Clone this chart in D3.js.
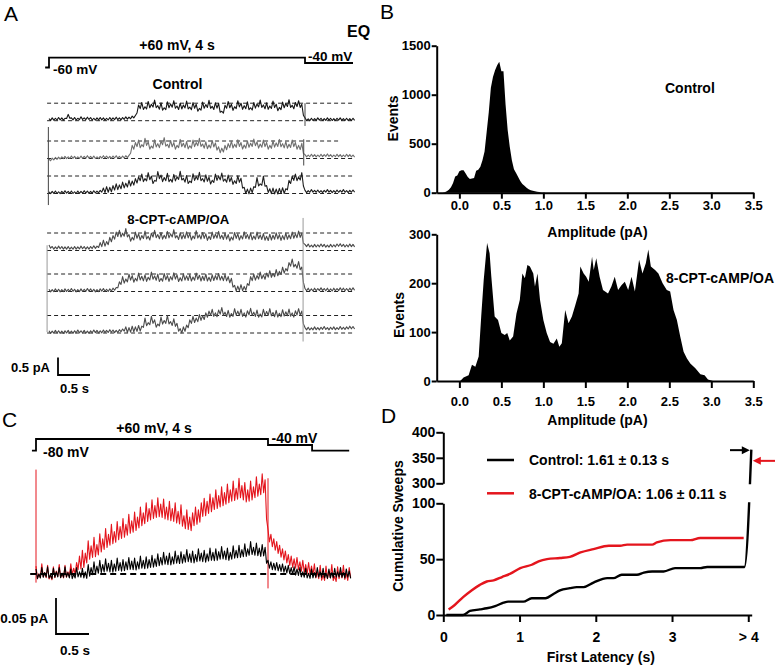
<!DOCTYPE html>
<html><head><meta charset="utf-8">
<script src="https://cdn.jsdelivr.net/npm/d3@7"></script>
<style>
body{margin:0;background:#fff;}
svg{display:block;font-family:"Liberation Sans",Arial,Helvetica,sans-serif;}
</style></head><body>
<svg id="fig" width="775" height="666"></svg>
<script>
// ---------------- DATA ----------------
// Panel A: voltage protocol (s, mV)
const protoA_time = [-0.06, 0, 0, 4, 4, 4.75];
const protoA_mV   = [-60, -60, 60, 60, -40, -40];
// Panel C: voltage protocol
const protoC_time = [-0.07, 0, 0, 4, 4, 4.76, 4.76, 5.4];
const protoC_mV   = [-80, -80, 60, 60, -40, -40, -80, -80];

// Panel A single-channel sweeps (pA), sampled every 0.05 s from 0 s
const sampleStepA = 0.05;
const ctrlSweep1 = [0.03,0.05,0.04,0.06,0.05,0.04,0.15,0.05,0.06,0.04,0.08,0.05,0.07,0.06,0.04,0.05,0.06,0.05,0.04,0.06,0.05,0.07,0.05,0.06,0.08,0.07,0.10,0.12,
 0.38,0.45,0.33,0.48,0.40,0.52,0.36,0.44,0.30,0.47,0.41,0.50,0.35,0.43,0.38,0.49,0.32,0.45,0.40,0.28,0.46,0.39,0.51,0.34,0.44,0.42,0.20,0.37,0.48,0.40,0.33,0.50,0.43,0.36,0.47,0.30,0.45,0.41,0.52,0.38,0.44,0.35,0.49,0.40,0.31,0.46,0.42,0.53,0.37,0.45,0.50,0.40,
 0.05,0.02,0.04,0.03,0.05,0.04,0.03,0.05,0.04,0.03,0.04,0.05,0.03,0.04,0.03,0.04];
const ctrlSweep2 = [-0.05,-0.02,0.00,0.01,0.02,0.03,0.02,0.04,0.03,0.02,0.04,0.03,0.05,0.03,0.04,0.02,0.03,0.05,0.04,0.03,0.04,0.05,0.03,0.04,0.05,0.06,
 0.30,0.38,0.45,0.32,0.50,0.40,0.28,0.46,0.35,0.42,0.52,0.33,0.44,0.38,0.30,0.47,0.36,0.41,0.29,0.45,0.38,0.50,0.34,0.40,0.31,0.44,0.37,0.26,0.22,0.30,0.35,0.42,0.33,0.46,0.38,0.31,0.43,0.36,0.48,0.40,0.34,0.45,0.38,0.30,0.43,0.37,0.47,0.35,0.41,0.33,0.45,0.38,0.30,0.36,
 0.08,0.07,0.09,0.08,0.07,0.09,0.08,0.10,0.08,0.07,0.09,0.08,0.07,0.09,0.08,0.07];
const ctrlSweep3 = [0.02,0.03,0.04,0.02,0.03,0.05,0.03,0.04,0.02,0.04,0.03,0.05,0.04,0.03,0.05,0.04,0.06,
 0.08,0.12,0.10,0.15,0.20,0.17,0.25,0.22,0.30,0.28,0.35,
 0.40,0.48,0.35,0.52,0.42,0.30,0.55,0.45,0.38,0.50,0.33,0.47,0.40,0.56,0.36,0.44,0.28,0.49,0.41,0.53,0.35,0.46,0.39,0.30,0.48,0.42,0.51,0.34,0.45,0.38,0.29,0.43,0.36,
 0.10,0.05,0.08,0.12, 0.38,0.20,0.42,0.15, 0.06,0.08,0.05,0.07,0.09,0.06, 0.30,0.42,0.48,0.40,0.52,
 0.06,0.05,0.08,0.06,0.07,0.05,0.06,0.08,0.06,0.05,0.07,0.06,0.08,0.05,0.06,0.07];
const cptSweep1 = [0.12,0.08,0.07,0.09,0.08,0.07,0.08,0.06,0.08,0.07,0.09,0.08,0.07,0.08,0.10,0.09,
 0.15,0.22,0.18,0.30,0.35,0.45,
 0.50,0.42,0.55,0.38,0.30,0.45,0.40,0.35,0.48,0.33,0.42,0.50,0.38,0.44,0.36,0.47,0.40,0.52,0.35,0.43,0.38,0.46,0.41,0.34,0.49,0.37,0.44,0.40,0.33,0.45,0.39,0.47,0.36,0.42,0.38,0.31,0.44,0.40,0.35,0.46,0.38,0.42,0.34,0.45,0.37,0.41,0.33,0.39,0.36,0.43,0.38,0.35,0.42,0.37,0.45,0.40,0.48,0.42,
 0.14,0.15,0.12,0.14,0.13,0.15,0.14,0.12,0.14,0.13,0.15,0.16,0.14,0.13,0.15,0.14];
const cptSweep2 = [0.03,0.02,0.04,0.03,0.02,0.04,0.03,0.05,0.03,0.02,0.04,0.03,0.05,0.04,0.03,0.02,0.04,0.05,0.03,0.04,0.06,0.08,
 0.20,0.35,0.28,0.42,0.38,0.30,0.45,0.36,0.40,0.33,0.48,0.37,0.42,0.30,0.44,0.38,0.35,0.46,0.40,0.32,0.43,0.37,0.41,0.34,0.45,0.39,0.36,0.42,0.33,0.40,0.38,0.44,0.36,0.41,0.35,0.30,
 0.10,0.08,0.12,0.07,0.15,
 0.35,0.42,0.38,0.48,0.40,0.45,0.52,0.44,0.55,0.50,0.62,0.58,0.75,0.85,0.70,0.78,0.62,
 0.05,0.06,0.04,0.06,0.05,0.07,0.05,0.06,0.04,0.06,0.05,0.07,0.06,0.05,0.06,0.07];
const cptSweep3 = [0.03,0.02,0.04,0.03,0.02,0.03,0.04,0.02,0.03,0.05,0.03,0.04,0.02,0.03,0.05,0.04,0.03,0.05,0.04,0.06,0.05,0.04,0.06,0.08,
 0.10,0.08,0.12,0.10,0.14,0.12,
 0.35,0.22,0.40,0.30,0.18,0.38,0.28,0.42,0.25,0.33,0.20,
 0.05,0.10,0.15,
 0.30,0.40,0.35,0.45,0.42,0.50,
 0.55,0.60,0.50,0.58,0.65,0.52,0.57,0.48,0.62,0.55,0.60,0.50,0.56,0.63,0.52,0.58,0.47,0.60,0.54,0.62,0.51,0.57,0.49,0.59,0.53,0.61,0.50,0.56,0.62,0.55,
 0.12,0.13,0.11,0.14,0.12,0.13,0.15,0.12,0.13,0.14,0.12,0.15,0.13,0.14,0.16,0.15];
const sweepsA = [ctrlSweep1, ctrlSweep2, ctrlSweep3, cptSweep1, cptSweep2, cptSweep3];
// noise half-width: [from s, to s, half-width pA]
const noiseA = [
  [[0,1.37,0.03],[1.37,4,0.07],[4,4.8,0.03]],
  [[0,1.27,0.03],[1.27,4,0.075],[4,4.8,0.03]],
  [[0,0.85,0.03],[0.85,4,0.075],[4,4.8,0.03]],
  [[0,0.8,0.035],[0.8,4,0.075],[4,4.8,0.035]],
  [[0,1.1,0.035],[1.1,4,0.075],[4,4.8,0.035]],
  [[0,1.2,0.035],[1.2,4,0.075],[4,4.8,0.035]]
];
const sweepColors = ["#151515", "#6e6e6e", "#1e1e1e", "#4a4a4a", "#4a4a4a", "#4a4a4a"];
const dashEndA = [4.78, 4.53, 4.78, 4.78, 4.78, 4.78];
// capacitive transients: [sweep index, time s, low pA, high pA]
const transientsA = [[1, -0.01, -1.33, 0.9], [0, 4.0, -0.15, 0.5], [1, 3.98, -0.2, 0.55],
                     [3, -0.03, -2.33, 0.15], [3, 3.97, -2.6, 0.93]];

// Panel B histograms
const ctrlAmp = [-0.2,-0.175,-0.15,-0.125,-0.1,-0.075,-0.05,-0.025,0,0.025,0.05,0.075,0.1,0.125,0.15,0.175,0.2,0.225,0.25,0.275,0.3,0.325,0.35,0.375,0.4,0.425,0.45,0.475,0.5,0.525,0.55,0.575,0.6,0.625,0.65,0.675,0.7,0.725,0.75,0.775,0.8,0.825,0.85,0.875,0.9,0.925,0.95,0.975,1.0];
const ctrlEvents = [0,5,15,30,55,100,165,175,220,230,230,195,160,140,145,150,225,235,265,330,420,620,820,1070,1180,1250,1300,1335,1240,1240,900,640,470,330,240,200,160,120,90,70,50,35,25,20,14,10,6,3,0];
const cptAmp = [0.01,0.05,0.11,0.15,0.19,0.23,0.26,0.29,0.33,0.36,0.38,0.42,0.46,0.5,0.54,0.57,0.6,0.64,0.68,0.72,0.75,0.78,0.81,0.84,0.88,0.9,0.93,0.96,1.0,1.04,1.08,1.12,1.16,1.19,1.22,1.26,1.3,1.34,1.38,1.42,1.44,1.48,1.51,1.54,1.58,1.6,1.63,1.67,1.71,1.77,1.81,1.85,1.89,1.93,1.97,2.01,2.05,2.09,2.14,2.18,2.22,2.25,2.28,2.33,2.37,2.42,2.47,2.51,2.55,2.59,2.63,2.67,2.71,2.75,2.81,2.87,2.92,2.96,3.02];
const cptEvents = [0,7,12,33,29,50,132,207,282,261,214,132,125,98,94,98,83,91,138,166,220,210,237,234,220,193,220,166,125,98,80,76,87,70,77,145,118,132,155,179,234,220,213,203,254,227,251,213,186,179,193,213,186,196,203,186,213,183,248,220,241,269,234,227,220,200,186,183,145,125,91,60,46,36,26,14,12,3,0];
const ampTicks = [0,0.5,1,1.5,2,2.5,3,3.5];

// Panel C ensemble averages (pA), sampled every 0.05 s from 0 s
const sampleStepC = 0.05;
const cptMean = [0.005,-0.006,0.008,-0.004,0.006,-0.008,0.004,-0.002,0.007,-0.005,0.006,-0.003,0.008,0.002,0.010,
 0.014,0.022,0.018,0.035,0.028,
 0.040,0.030,0.045,0.038,0.052,0.044,0.058,0.048,0.062,0.055,0.066,0.058,0.072,0.063,0.075,0.068,0.082,0.074,0.088,0.080,
 0.092,0.084,0.095,0.086,0.093,0.082,0.090,0.080,0.088,0.076,0.085,0.070,0.078,0.068,0.074,0.082,0.078,0.088,0.094,0.090,
 0.100,0.095,0.106,0.098,0.110,0.102,0.114,0.106,0.118,0.108,0.122,0.112,0.116,0.106,0.118,0.110,0.124,0.114,0.128,0.120,
 0.055,0.048,0.042,0.038,0.033,0.028,0.025,0.020,0.018,0.014,0.016,0.010,0.012,0.006,0.009,0.004,0.007,-0.004,0.005,-0.008,0.004,-0.003,0.006,-0.010,0.003,-0.002,0.005,-0.006,0.002];
const ctrlMean = [0.002,-0.005,0.004,-0.003,0.005,-0.006,0.003,-0.002,0.004,-0.004,0.005,-0.003,0.002,-0.005,0.004,-0.002,0.003,-0.004,
 0.006,0.002,0.010,0.004,0.012,0.006,0.014,0.008,0.012,0.007,0.015,0.009,0.013,0.010,0.016,0.011,0.015,0.010,0.018,0.012,0.017,0.013,
 0.019,0.014,0.021,0.016,0.023,0.018,0.022,0.017,0.025,0.019,0.024,0.020,0.027,0.021,0.025,0.020,0.028,0.022,0.026,0.021,
 0.029,0.023,0.028,0.024,0.031,0.025,0.029,0.023,0.032,0.026,0.033,0.027,0.035,0.028,0.038,0.030,0.036,0.029,0.034,0.030,
 0.014,0.012,0.010,0.011,0.008,0.009,0.006,0.007,0.004,0.005,0.002,0.004,-0.002,0.003,-0.004,0.002,-0.003,0.004,-0.002,0.003,-0.004,0.002,-0.003,0.003,-0.002,0.004,-0.003,0.002,-0.001];
const noiseC_cpt  = [[0,0.75,0.006],[0.75,4,0.011],[4,5.45,0.007]];
const noiseC_ctrl = [[0,0.85,0.005],[0.85,4,0.007],[4,5.45,0.005]];
const transientsC = [[0, -0.012, 0.145], [4.0, -0.02, 0.133]];

// Panel D cumulative first latency
const ctrlLatency = [0.04,0.26,0.35,0.48,0.57,0.68,0.79,0.85,1.05,1.16,1.34,1.45,1.53,1.66,1.75,1.84,1.97,2.15,2.23,2.34,2.54,2.63,2.74,2.89,3.04,3.37,3.46,3.95,4.04];
const ctrlCumSweeps = [0,0,3.6,5,6,8,11,12,12,15,15,19,22,24,25,25,29,33,33,36,36,38,39,39,42,42,43,43,366];
const cptLatency = [0.07,0.15,0.26,0.37,0.48,0.57,0.66,0.77,0.88,1.01,1.16,1.25,1.36,1.53,1.66,1.8,1.97,2.17,2.32,2.41,2.74,2.8,2.98,3.24,3.37,3.94];
const cptCumSweeps = [5,9,16,22,27,30,31,34,37,42,45,48,50,51,52,56,59,62,62,63,63,65,67,67,69,69];
const latencyTicks = [0,1,2,3,4];
const sweepTicksLow = [0,50,100];
const sweepTicksHigh = [300,350,400];
const legendD = ["Control: 1.61 \u00B1 0.13 s", "8-CPT-cAMP/OA: 1.06 \u00B1 0.11 s"];
// arrows marking totals: [from latency, to latency, sweeps]
const arrowsD = [[3.76, 4.02, 365], [4.36, 4.06, 344]];

// ---------------- DRAWING ----------------
const RED = "#e4151d";
const svg = d3.select("#fig");
svg.append("rect").attr("width",775).attr("height",666).attr("fill","#fff");
const FONT = '"Liberation Sans", Arial, Helvetica, sans-serif';
function txt(x, y, s, size, opts={}) {
  return svg.append("text").attr("x",x).attr("y",y).text(s)
    .attr("font-size",size).attr("font-weight",opts.weight||"bold")
    .attr("text-anchor",opts.anchor||"start").attr("fill",opts.fill||"#000")
    .attr("font-family",FONT);
}
function styleAxis(g, size) {
  g.selectAll("path.domain").attr("stroke","#000").attr("stroke-width",2);
  g.selectAll(".tick line").attr("stroke","#000").attr("stroke-width",2);
  g.selectAll(".tick text").attr("font-size",size).attr("font-weight","bold").attr("font-family",FONT).attr("fill","#000");
}
function halfWidth(segs, t) {
  const s = segs.find(s => t >= s[0] && t < s[1]) || segs[segs.length-1];
  return s[2];
}
// a recorded trace drawn as a dense noisy line: each sample swings by its noise half-width
function noisyPoints(arr, step, segs) {
  const pts = [];
  arr.forEach((v,k) => {
    const t = k*step, h = halfWidth(segs, t);
    pts.push([t, v + h]);
    pts.push([t + step/2, (arr[k+1] !== undefined ? (v + arr[k+1])/2 : v) - h]);
  });
  return pts;
}

// panel letters
txt(4,21,"A",21,{weight:"normal"});
txt(380,19,"B",21,{weight:"normal"});
txt(2,427,"C",21,{weight:"normal"});
txt(381,423,"D",21,{weight:"normal"});

// ===== Panel A =====
const xA = d3.scaleLinear().domain([0,4]).range([49,305]);
const vA = d3.scaleLinear().domain([-60,-40,60]).range([67.5,63,57.7]);
svg.append("path").datum(d3.zip(protoA_time, protoA_mV))
  .attr("d", d3.line().x(d=>xA(d[0])).y(d=>vA(d[1])))
  .attr("fill","none").attr("stroke","#000").attr("stroke-width",1.8);
txt(xA(2.0),50,"+60 mV, 4 s",14,{anchor:"middle"});
txt(53,74,"-60 mV",13.5);
txt(308,60.5,"-40 mV",13.5);
txt(347,36.7,"EQ",16);
txt(177.5,89,"Control",14,{anchor:"middle"});
txt(178.3,224,"8-CPT-cAMP/OA",13.2,{anchor:"middle"});

const baseA = [120.7, 158.5, 193.5, 250.5, 291.5, 333];
const yA = d3.scaleLinear().domain([0,0.5]).range([0,-17.5]);
sweepsA.forEach((sw, i) => {
  const g = svg.append("g").attr("transform",`translate(0,${baseA[i]})`);
  [0, 0.5].forEach(level => {
    g.append("line").attr("x1",xA(-0.03)).attr("x2",xA(level===0.5?dashEndA[i]:4.78))
      .attr("y1",yA(level)).attr("y2",yA(level))
      .attr("stroke","#222").attr("stroke-width",1).attr("stroke-dasharray","4,3");
  });
  g.append("path").datum(noisyPoints(sw, sampleStepA, noiseA[i]))
    .attr("d", d3.line().x(d=>xA(d[0])).y(d=>yA(d[1])))
    .attr("fill","none").attr("stroke",sweepColors[i]).attr("stroke-width",1.1).attr("stroke-linejoin","round");
});
transientsA.forEach(([i,t,lo,hi]) => {
  svg.append("line").attr("x1",xA(t)).attr("x2",xA(t))
    .attr("y1",baseA[i]+yA(lo)).attr("y2",baseA[i]+yA(hi))
    .attr("stroke", i<3 ? "#444" : "#999").attr("stroke-width",1);
});
// scale bar A
{
  const x0 = 58, y0 = 375;
  svg.append("path").attr("d",`M${x0},${y0+yA(0.5)}V${y0}H${x0 + xA(0.5)-xA(0)}`)
    .attr("fill","none").attr("stroke","#000").attr("stroke-width",1.8);
  txt(50,371.5,"0.5 pA",13,{anchor:"end"});
  txt(60,393,"0.5 s",13);
}

// ===== Panel B =====
const xB = d3.scaleLinear().domain([-0.27,3.5]).range([436.7,753.3]);
function histPanel(amp, ev, yDomain, yRange, yTicks, opts) {
  const y = d3.scaleLinear().domain(yDomain).range(yRange);
  svg.append("path").datum(d3.zip(amp, ev))
    .attr("d", d3.area().x(d=>xB(d[0])).y0(y(0)).y1(d=>y(d[1])))
    .attr("fill","#000");
  const gy = svg.append("g").attr("transform",`translate(${xB.range()[0]},0)`)
    .call(d3.axisLeft(y).tickValues(yTicks).tickFormat(d3.format("d")).tickSize(5).tickPadding(1).tickSizeOuter(0));
  styleAxis(gy, 13);
  const gx = svg.append("g").attr("transform",`translate(0,${yRange[0]})`)
    .call(d3.axisBottom(xB).tickValues(ampTicks).tickFormat(d3.format(".1f"))
      .tickSize(opts.tick).tickPadding(opts.pad).tickSizeOuter(0));
  styleAxis(gx, 13);
}
histPanel(ctrlAmp, ctrlEvents, [0,1500], [192.7,45.7], [0,500,1000,1500], {tick:6, pad:2});
histPanel(cptAmp, cptEvents, [0,300], [381,234.3], [0,100,200,300], {tick:7, pad:9});
function vtext(x, y, s, size) {
  svg.append("text").attr("transform",`translate(${x},${y}) rotate(-90)`)
    .attr("text-anchor","middle").attr("dominant-baseline","central")
    .attr("font-size",size).attr("font-weight","bold").attr("font-family",FONT).text(s);
}
vtext(393,118.5,"Events",14);
vtext(398.5,315,"Events",14);
txt(597.5,237,"Amplitude (pA)",14,{anchor:"middle"});
txt(597.5,424.5,"Amplitude (pA)",14,{anchor:"middle"});
txt(665,93,"Control",14);
txt(666,283,"8-CPT-cAMP/OA",14);

// ===== Panel C =====
const xC = d3.scaleLinear().domain([0,4]).range([36,268]);
const vC = d3.scaleLinear().domain([-80,-40,60]).range([450.7,445,439]);
const yC = d3.scaleLinear().domain([0,0.05]).range([574,538]);
svg.append("path").datum(d3.zip(protoC_time, protoC_mV))
  .attr("d", d3.line().x(d=>xC(d[0])).y(d=>vC(d[1])))
  .attr("fill","none").attr("stroke","#000").attr("stroke-width",1.8);
txt(154,433,"+60 mV, 4 s",14,{anchor:"middle"});
txt(43,456.5,"-80 mV",14);
txt(271.5,443,"-40 mV",14);
transientsC.forEach(([t,lo,hi]) => {
  svg.append("line").attr("x1",xC(t)).attr("x2",xC(t)).attr("y1",yC(lo)).attr("y2",yC(hi))
    .attr("stroke",RED).attr("stroke-width",1);
});
[[cptMean, RED, noiseC_cpt],[ctrlMean, "#000", noiseC_ctrl]].forEach(([arr,col,nz]) => {
  svg.append("path").datum(noisyPoints(arr, sampleStepC, nz))
    .attr("d", d3.line().x(d=>xC(d[0])).y(d=>yC(d[1])))
    .attr("fill","none").attr("stroke",col).attr("stroke-width",1.1).attr("stroke-linejoin","round");
});
svg.append("line").attr("x1",xC(-0.1)).attr("x2",xC(5.4)).attr("y1",yC(0)).attr("y2",yC(0))
  .attr("stroke","#000").attr("stroke-width",2).attr("stroke-dasharray","6,4");
{
  const x0 = 56, y0 = 634;
  svg.append("path").attr("d",`M${x0},${y0-(yC(0)-yC(0.05))}V${y0}H${x0 + xC(0.5)-xC(0) + 4}`)
    .attr("fill","none").attr("stroke","#000").attr("stroke-width",1.8);
  txt(48.3,623,"0.05 pA",13.5,{anchor:"end"});
  txt(60,655,"0.5 s",13.5);
}

// ===== Panel D =====
const xD = d3.scaleLinear().domain([0,4.045]).range([443.3,751.7]);
const yLow = d3.scaleLinear().domain([0,100]).range([615,503.3]);
const yHigh = d3.scaleLinear().domain([300,400]).range([483.3,432.3]);
const yD = v => v <= 100 ? yLow(v) : (v >= 300 ? yHigh(v) : yLow(100) + (v-100)/200*(yHigh(300)-yLow(100)));
const defs = svg.append("defs");
const clip = defs.append("clipPath").attr("id","clipD");
clip.append("rect").attr("x",440).attr("y",420).attr("width",340).attr("height",yHigh(300)-420+1);
clip.append("rect").attr("x",440).attr("y",yLow(100)-1).attr("width",340).attr("height",620-yLow(100)+1);
const gLine = svg.append("g").attr("clip-path","url(#clipD)");
[[cptLatency, cptCumSweeps, RED],[ctrlLatency, ctrlCumSweeps, "#000"]].forEach(([xs,ys,col]) => {
  gLine.append("path").datum(d3.zip(xs,ys))
    .attr("d", d3.line().x(d=>xD(d[0])).y(d=>yD(d[1])).curve(d3.curveMonotoneX))
    .attr("fill","none").attr("stroke",col).attr("stroke-width",2.4);
});
const gyLow = svg.append("g").attr("transform","translate(443.3,0)")
  .call(d3.axisLeft(yLow).tickValues(sweepTicksLow).tickSize(7).tickPadding(1).tickSizeOuter(0));
styleAxis(gyLow, 14);
const gyHigh = svg.append("g").attr("transform","translate(443.3,0)")
  .call(d3.axisLeft(yHigh).tickValues(sweepTicksHigh).tickSize(7).tickPadding(1).tickSizeOuter(0));
styleAxis(gyHigh, 14);
const gxD = svg.append("g").attr("transform","translate(0,615)")
  .call(d3.axisBottom(xD).tickValues(latencyTicks).tickFormat(d => d===4 ? "> 4" : d3.format("d")(d))
    .tickSize(7).tickPadding(10).tickSizeOuter(0));
styleAxis(gxD, 14);
vtext(397.5,526,"Cumulative Sweeps",14);
txt(600.8,662,"First Latency (s)",14,{anchor:"middle"});
// legend
[[460,"#000"],[493.3,RED]].forEach(([y,col],i) => {
  svg.append("line").attr("x1",487).attr("x2",514).attr("y1",y).attr("y2",y)
    .attr("stroke",col).attr("stroke-width",2.5);
  txt(529,y+5.3,legendD[i],14);
});
// arrows
arrowsD.forEach(([a,b,v],i) => {
  const col = i===0 ? "#000" : RED;
  const x1 = xD(a), x2 = xD(b), y = yD(v);
  const dir = Math.sign(x2-x1);
  svg.append("line").attr("x1",x1).attr("x2",x2-dir*6).attr("y1",y).attr("y2",y)
    .attr("stroke",col).attr("stroke-width",2);
  svg.append("path").attr("d",`M${x2},${y}L${x2-dir*8},${y-4}L${x2-dir*8},${y+4}Z`).attr("fill",col);
});
</script></body></html>
